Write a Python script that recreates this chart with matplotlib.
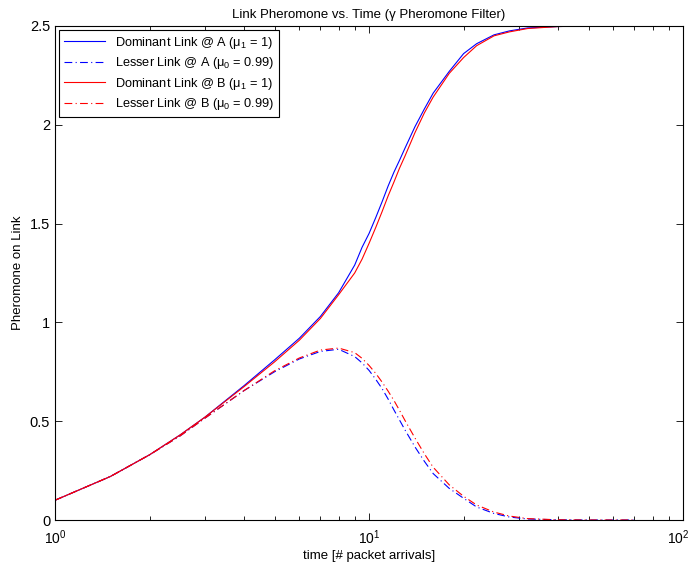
import matplotlib
matplotlib.use('Agg')
import matplotlib.pyplot as plt
import matplotlib.transforms as mtransforms
from matplotlib.ticker import LogLocator, NullFormatter

plt.rcParams['font.family'] = ['Liberation Sans', 'DejaVu Sans']
plt.rcParams['mathtext.fontset'] = 'custom'
plt.rcParams['mathtext.rm'] = 'Liberation Sans'
plt.rcParams['mathtext.it'] = 'Liberation Sans'
plt.rcParams['mathtext.bf'] = 'Liberation Sans:bold'

# packet arrivals (x) shared by all series
t = [1, 1.5, 2, 2.5, 3, 4, 5, 6, 7, 8, 9, 9.5, 10, 10.5, 11, 11.5, 12, 12.5,
     13, 14, 15, 16, 18, 20, 22, 25, 28, 32, 40, 50, 70]

dom_a = [0.10, 0.22, 0.33, 0.43, 0.52, 0.68, 0.81, 0.92, 1.03, 1.15, 1.29,
         1.38, 1.45, 1.53, 1.61, 1.69, 1.76, 1.82, 1.88, 1.99, 2.08, 2.16,
         2.27, 2.36, 2.41, 2.455, 2.475, 2.49, 2.497, 2.5, 2.5]
les_a = [0.10, 0.22, 0.33, 0.425, 0.515, 0.655, 0.75, 0.815, 0.853, 0.864,
         0.827, 0.795, 0.757, 0.712, 0.665, 0.612, 0.557, 0.506, 0.457, 0.37,
         0.297, 0.235, 0.16, 0.11, 0.066, 0.033, 0.015, 0.005, 0.001, 0.0,
         0.0]
dom_b = [0.10, 0.22, 0.33, 0.43, 0.52, 0.675, 0.80, 0.91, 1.02, 1.14, 1.25,
         1.32, 1.40, 1.48, 1.56, 1.64, 1.71, 1.78, 1.84, 1.96, 2.06, 2.14,
         2.26, 2.34, 2.40, 2.45, 2.47, 2.487, 2.497, 2.5, 2.5]
les_b = [0.10, 0.22, 0.33, 0.425, 0.515, 0.655, 0.755, 0.82, 0.86, 0.87,
         0.847, 0.818, 0.782, 0.742, 0.698, 0.652, 0.605, 0.555, 0.505, 0.415,
         0.335, 0.267, 0.178, 0.12, 0.076, 0.04, 0.02, 0.007, 0.001, 0.0,
         0.0]

labels = [r'Dominant Link @ A ($\mathregular{\mu_1}$ = 1)',
          r'Lesser Link @ A ($\mathregular{\mu_0}$ = 0.99)',
          r'Dominant Link @ B ($\mathregular{\mu_1}$ = 1)',
          r'Lesser Link @ B ($\mathregular{\mu_0}$ = 0.99)']

dashdot = (0, (7, 3, 1, 3))

fig = plt.figure(figsize=(6.91, 5.64), dpi=100)
ax = fig.add_axes([0.0796, 0.078, 0.909, 0.876])

ax.plot(t, dom_a, color='#0000ff', lw=0.8, label=labels[0])
ax.plot(t, les_a, color='#0000ff', lw=0.8, ls=dashdot, label=labels[1])
ax.plot(t, dom_b, color='#ff0000', lw=0.8, label=labels[2])
ax.plot(t, les_b, color='#ff0000', lw=0.8, ls=dashdot, label=labels[3])

ax.set_xscale('log')
ax.set_xlim(1, 100)
ax.set_ylim(0, 2.5)
ax.set_yticks([0, 0.5, 1, 1.5, 2, 2.5])
ax.set_yticklabels(['0', '0.5', '1', '1.5', '2', '2.5'])
ax.set_xticks([1, 10, 100])
ax.set_xticklabels([r'$\mathregular{10^0}$', r'$\mathregular{10^1}$',
                    r'$\mathregular{10^2}$'])
ax.xaxis.set_minor_locator(LogLocator(base=10, subs=range(2, 10)))
ax.xaxis.set_minor_formatter(NullFormatter())
ax.tick_params(which='both', direction='in', top=True, right=True,
               labelsize=10.5, width=0.6)
ax.tick_params(axis='x', pad=6, labelsize=10)
ax.tick_params(which='major', length=5)
ax.tick_params(which='minor', length=3)
for s in ax.spines.values():
    s.set_linewidth(0.8)

# nudge the last x label so it stays inside the figure
last = ax.get_xticklabels()[-1]
last.set_transform(last.get_transform() +
                   mtransforms.ScaledTranslation(-5 / 100, 0, fig.dpi_scale_trans))

ax.set_xlabel('time [# packet arrivals]', fontsize=9.5, labelpad=2)
ax.set_ylabel('Pheromone on Link', fontsize=9.5)
ax.set_title('Link Pheromone vs. Time (\u03b3 Pheromone Filter)', fontsize=9.5)

leg = ax.legend(loc='upper left', fontsize=9.2, fancybox=False, framealpha=1,
                edgecolor='black', handlelength=3.2, borderaxespad=0.3,
                labelspacing=0.35)
leg.get_frame().set_linewidth(0.8)

fig.savefig('out.png', dpi=100)
